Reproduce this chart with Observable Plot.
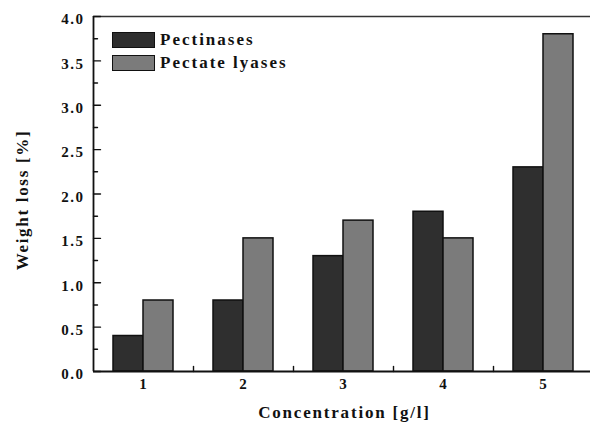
<!DOCTYPE html>
<html>
<head>
<meta charset="utf-8">
<script src="https://cdn.jsdelivr.net/npm/d3@7"></script>
<script src="https://cdn.jsdelivr.net/npm/@observablehq/plot@0.6"></script>
<style>
  html, body { margin: 0; padding: 0; background: #fff; }
  #wrap { position: relative; width: 590px; height: 431px; overflow: hidden; }
  .legend { position: absolute; left: 112px; top: 29px; font-family: "Liberation Serif", serif; font-weight: bold; font-size: 17px; letter-spacing: 2px; color: #111; }
  .legend .row { display: flex; align-items: center; height: 22.5px; }
  .legend .sw { width: 43px; height: 16px; border: 1.5px solid #111; margin-right: 5px; box-sizing: border-box; }
</style>
</head>
<body>
<div id="wrap"></div>
<script>
const concentrations = [1, 2, 3, 4, 5];
const pectinases = [0.4, 0.8, 1.3, 1.8, 2.3];
const pectateLyases = [0.8, 1.5, 1.7, 1.5, 3.8];
const seriesNames = ["Pectinases", "Pectate lyases"];
const seriesColors = ["#2f2f2f", "#7b7b7b"];
const yMajorTicks = [0, 0.5, 1, 1.5, 2, 2.5, 3, 3.5, 4];
const yMinorTicks = [0.25, 0.75, 1.25, 1.75, 2.25, 2.75, 3.25, 3.75];
const xGroupTicks = [1.5, 2.5, 3.5, 4.5];
const xTitle = "Concentration [g/l]";
const yTitle = "Weight loss [%]";

const barW = 0.3;
const rows = [];
concentrations.forEach((c, i) => {
  rows.push({c, series: seriesNames[0], v: pectinases[i], x1: c - barW, x2: c});
  rows.push({c, series: seriesNames[1], v: pectateLyases[i], x1: c, x2: c + barW});
});

const lineShape = {draw(context, l) { context.moveTo(0, 0); context.lineTo(0, -l); }};

const font = {fontFamily: "'Liberation Serif', 'Times New Roman', serif", fontWeight: "bold", fontSize: "15px", color: "#111", background: "transparent", overflow: "visible"};

const chart = Plot.plot({
  width: 590,
  height: 431,
  marginLeft: 93,
  marginTop: 16,
  marginBottom: 60,
  marginRight: 0,
  style: font,
  x: {domain: [0.5, 5.5], range: [93, 593], axis: null},
  y: {domain: [0, 4], axis: null},
  color: {domain: seriesNames, range: seriesColors},
  marks: [
    Plot.rectY(rows, {x1: "x1", x2: "x2", y: "v", fill: "series", stroke: "#111", strokeWidth: 1.5}),
    Plot.ruleY([0], {stroke: "#111", strokeWidth: 1.8}),
    Plot.ruleY([4], {stroke: "#333", strokeWidth: 1.5}),
    Plot.ruleX([0.5], {stroke: "#111", strokeWidth: 1.8}),
    Plot.vector(yMajorTicks, {y: d => d, frameAnchor: "left", rotate: 90, length: 7, anchor: "start", shape: lineShape, stroke: "#111", strokeWidth: 1.4}),
    Plot.vector(yMinorTicks, {y: d => d, frameAnchor: "left", rotate: 90, length: 4, anchor: "start", shape: lineShape, stroke: "#111", strokeWidth: 1.4}),
    Plot.vector(xGroupTicks, {x: d => d, frameAnchor: "bottom", rotate: 0, length: 5, anchor: "start", shape: lineShape, stroke: "#111", strokeWidth: 1.4}),
    Plot.text(yMajorTicks, {y: d => d, frameAnchor: "left", textAnchor: "end", dx: -9, dy: 3, text: d3.format(".1f"), fontSize: 15, fill: "#111"}),
    Plot.text(concentrations, {x: d => d, frameAnchor: "bottom", dy: 17, text: d3.format("d"), fontSize: 15, fill: "#111"}),
    Plot.text([xTitle], {frameAnchor: "bottom", dy: 46, dx: 1, x: () => 3, text: d => d, fontSize: 17, fill: "#111"}),
    Plot.text([yTitle], {frameAnchor: "left", textAnchor: "middle", dx: -71, dy: 6, rotate: -90, text: d => d, fontSize: 17, fill: "#111"})
  ]
});

// letter spacing for the stretched serif labels (yTicks, xTicks, xTitle, yTitle)
const textGroups = chart.querySelectorAll('g[aria-label="text"]');
const spacing = ["1.5px", "1px", "1.8px", "1.7px"];
textGroups.forEach((g, i) => { g.style.letterSpacing = spacing[i] || "0"; });

const wrap = document.getElementById("wrap");
wrap.appendChild(chart);

const legend = document.createElement("div");
legend.className = "legend";
seriesNames.forEach((name, i) => {
  const row = document.createElement("div");
  row.className = "row";
  const sw = document.createElement("div");
  sw.className = "sw";
  sw.style.background = seriesColors[i];
  const t = document.createElement("span");
  t.textContent = name;
  row.appendChild(sw);
  row.appendChild(t);
  legend.appendChild(row);
});
wrap.appendChild(legend);
</script>
</body>
</html>
